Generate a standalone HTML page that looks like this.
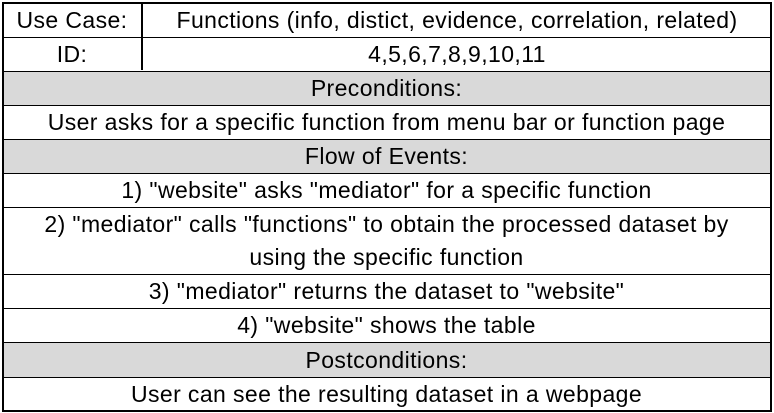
<!DOCTYPE html>
<html><head><style>
body{margin:0;width:774px;height:413px;background:#fff;position:relative;font-family:"Liberation Sans",sans-serif;font-size:23px;letter-spacing:0.4px;color:#000;overflow:hidden}
.r{position:absolute;left:2px;width:769px;display:flex;align-items:center;justify-content:center;text-align:center;line-height:33px;border-top:1.5px solid #000;box-sizing:border-box}
.g{background:#d9d9d9}
.frame{position:absolute;left:2px;top:2px;width:770px;height:410px;border:2px solid #000;box-sizing:border-box}
.v{position:absolute;left:141px;top:3px;height:67px;width:1.5px;background:#000}
.c1{position:absolute;left:2px;width:140px;text-align:center;line-height:34px}
</style></head><body>
<div class="r" style="top:3px;height:35px;border-top:none"></div>
<div class="c1" style="top:3px">Use Case:</div>
<div style="position:absolute;left:142px;width:630px;top:3px;line-height:34px;text-align:center">Functions (info, distict, evidence, correlation, related)</div>
<div class="r" style="top:37px;height:34px"></div>
<div class="c1" style="top:37px">ID:</div>
<div style="position:absolute;left:142px;width:630px;top:37px;line-height:34px;text-align:center">4,5,6,7,8,9,10,11</div>
<div class="v"></div>
<div class="r g" style="top:71px;height:34px">Preconditions:</div>
<div class="r" style="top:105px;height:34px">User asks for a specific function from menu bar or function page</div>
<div class="r g" style="top:139px;height:34px">Flow of Events:</div>
<div class="r" style="top:173px;height:34px">1) "website" asks "mediator" for a specific function</div>
<div class="r" style="top:207px;height:67px">2) "mediator" calls "functions" to obtain the processed dataset by<br>using the specific function</div>
<div class="r" style="top:274px;height:34px">3) "mediator" returns the dataset to "website"</div>
<div class="r" style="top:308px;height:34px">4) "website" shows the table</div>
<div class="r g" style="top:342px;height:35px">Postconditions:</div>
<div class="r" style="top:377px;height:34px">User can see the resulting dataset in a webpage</div>
<div class="frame"></div>
</body></html>
